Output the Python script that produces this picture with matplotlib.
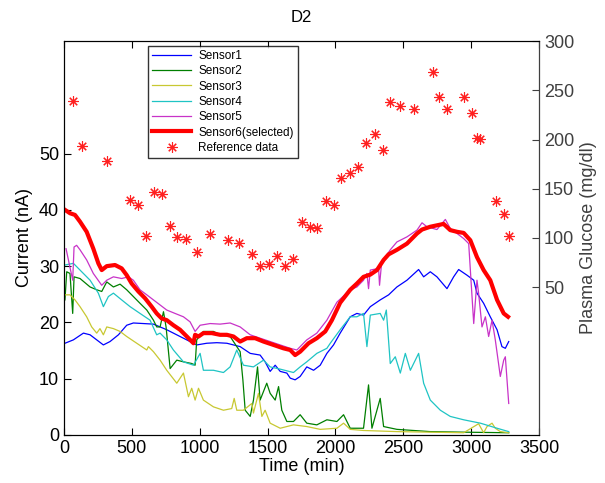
import matplotlib
matplotlib.use("Agg")
import matplotlib.pyplot as plt

plt.rcParams['font.family'] = ['Liberation Sans', 'DejaVu Sans']

# ---- data (time in min, current in nA, glucose in mg/dl) ----
t1 = [7, 69, 143, 192, 241, 290, 339, 401, 462, 511, 585, 659, 708, 757, 806, 855, 929, 978,
      1052, 1126, 1200, 1249, 1298, 1372, 1445, 1482, 1519, 1556, 1593, 1642, 1667, 1703, 1740,
      1789, 1839, 1888, 1937, 1986, 2035, 2109, 2158, 2207, 2257, 2330, 2392, 2453, 2527, 2613,
      2650, 2699, 2748, 2822, 2871, 2908, 2969, 3019, 3043, 3092, 3141, 3191, 3227, 3252, 3277]
s1 = [16.3, 16.9, 18.1, 17.8, 16.9, 16.0, 16.6, 17.8, 19.5, 19.9, 19.8, 19.7, 19.2, 18.7, 18.1,
      17.5, 16.6, 16.0, 16.3, 16.4, 16.3, 16.0, 15.7, 14.5, 14.2, 13.0, 11.3, 12.4, 11.3, 11.0,
      10.1, 9.8, 10.4, 12.1, 11.5, 12.4, 14.5, 16.0, 18.1, 21.0, 21.6, 21.3, 22.8, 24.0, 24.9,
      26.3, 27.5, 29.4, 28.1, 29.0, 28.1, 26.0, 28.1, 29.4, 28.4, 27.5, 25.2, 23.4, 21.0, 18.7,
      15.7, 15.4, 16.6]

t2 = [7, 20, 44, 64, 74, 118, 192, 241, 278, 315, 364, 413, 462, 511, 560, 610, 659, 683, 708,
      733, 752, 782, 831, 880, 941, 966, 978, 1027, 1101, 1150, 1224, 1298, 1318, 1335, 1372,
      1396, 1426, 1445, 1494, 1519, 1556, 1581, 1605, 1642, 1691, 1740, 1789, 1863, 1937, 2011,
      2060, 2109, 2207, 2244, 2269, 2330, 2355, 2453, 2699, 2945, 3277]
s2 = [24.0, 29.0, 28.7, 21.6, 28.1, 27.8, 26.3, 25.8, 25.5, 27.2, 26.3, 26.8, 25.8, 24.6, 23.4,
      22.2, 20.4, 19.2, 19.2, 21.9, 19.2, 11.8, 13.3, 13.0, 12.7, 12.4, 16.9, 18.4, 18.4, 17.8,
      17.5, 14.8, 9.8, 4.4, 3.3, 6.2, 12.1, 6.2, 9.2, 7.4, 6.2, 8.6, 4.4, 2.4, 2.4, 3.6, 2.1,
      1.8, 2.7, 2.4, 3.6, 1.2, 1.2, 8.9, 1.2, 6.5, 1.5, 1.0, 0.6, 0.5, 0.4]

t3 = [7, 44, 81, 118, 167, 204, 241, 265, 290, 315, 364, 413, 462, 536, 610, 622, 659, 708, 757,
      831, 880, 917, 941, 966, 991, 1027, 1101, 1175, 1236, 1254, 1273, 1322, 1384, 1396, 1433,
      1458, 1482, 1519, 1593, 1691, 1789, 1888, 2011, 2060, 2109, 2207, 2453, 2945, 3055, 3092,
      3117, 3154, 3178, 3215, 3277]
s3 = [24.9, 24.9, 24.0, 22.8, 21.0, 19.2, 18.1, 18.9, 17.8, 19.2, 18.9, 18.4, 17.5, 16.3, 15.1,
      15.7, 14.8, 13.3, 11.5, 9.2, 11.0, 6.8, 8.3, 6.2, 8.3, 6.2, 5.0, 4.4, 4.7, 6.5, 4.4, 4.4,
      5.6, 3.9, 7.4, 3.3, 4.4, 2.1, 1.2, 1.8, 1.5, 1.0, 1.2, 2.1, 1.0, 0.8, 0.6, 0.4, 2.0, 0.4,
      1.5, 2.1, 1.2, 0.6, 0.4]

t4 = [7, 69, 118, 192, 253, 290, 327, 364, 425, 487, 560, 634, 683, 708, 757, 806, 880, 954,
      1003, 1027, 1101, 1175, 1224, 1273, 1322, 1396, 1470, 1519, 1593, 1691, 1740, 1789, 1863,
      1937, 1962, 2035, 2109, 2158, 2207, 2232, 2257, 2330, 2355, 2375, 2404, 2441, 2478, 2515,
      2552, 2613, 2650, 2699, 2773, 2846, 2945, 3068, 3191, 3277]
s4 = [30.2, 30.5, 29.3, 27.5, 25.2, 22.8, 24.6, 25.2, 24.0, 22.8, 21.6, 20.4, 17.8, 18.1, 16.9,
      15.1, 13.0, 12.4, 14.5, 11.5, 11.5, 11.1, 12.1, 15.1, 12.4, 12.1, 13.3, 12.1, 11.7, 11.1,
      12.1, 13.0, 14.5, 15.4, 16.3, 18.7, 21.0, 21.0, 21.6, 15.7, 21.3, 21.6, 20.4, 22.2, 12.7,
      13.9, 11.0, 14.5, 11.5, 14.5, 9.2, 6.2, 4.4, 3.3, 2.7, 2.1, 1.2, 0.6]

t5 = [15, 64, 74, 93, 118, 167, 216, 278, 315, 364, 425, 474, 511, 560, 610, 659, 708, 757, 818,
      880, 929, 966, 1003, 1077, 1150, 1224, 1298, 1372, 1445, 1519, 1593, 1667, 1716, 1789,
      1863, 1937, 2011, 2109, 2158, 2207, 2232, 2244, 2257, 2318, 2325, 2340, 2355, 2404, 2453,
      2527, 2601, 2638, 2674, 2748, 2810, 2846, 2896, 2945, 2982, 3019, 3043, 3055, 3080, 3105,
      3129, 3154, 3178, 3215, 3240, 3252, 3277]
s5 = [33.1, 27.5, 33.4, 33.7, 32.9, 31.1, 28.7, 26.6, 27.5, 28.1, 27.8, 28.1, 27.5, 25.8, 24.9,
      24.0, 23.1, 22.2, 21.6, 21.0, 20.1, 18.4, 19.5, 19.8, 19.7, 19.9, 19.2, 17.8, 17.2, 16.6,
      16.0, 15.4, 15.1, 16.9, 18.1, 20.4, 23.6, 25.8, 26.3, 27.5, 28.7, 26.0, 29.3, 29.6, 26.6,
      30.5, 31.1, 32.9, 34.3, 35.2, 36.4, 37.7, 37.0, 36.5, 38.3, 36.7, 35.8, 34.9, 34.0, 19.8,
      27.5, 25.2, 19.2, 21.0, 17.5, 20.4, 16.9, 10.4, 13.3, 13.9, 5.6]

t6 = [7, 44, 81, 118, 167, 216, 253, 278, 315, 376, 425, 462, 499, 548, 597, 646, 683, 720, 757,
      806, 855, 905, 954, 966, 991, 1027, 1089, 1150, 1200, 1249, 1298, 1347, 1408, 1470, 1544,
      1617, 1667, 1703, 1740, 1802, 1863, 1925, 1974, 2035, 2109, 2158, 2207, 2257, 2306, 2355,
      2392, 2453, 2527, 2601, 2638, 2699, 2797, 2846, 2896, 2945, 2994, 3043, 3092, 3141, 3191,
      3240, 3272]
s6 = [40.0, 39.4, 39.1, 37.9, 36.1, 33.1, 30.5, 29.3, 30.0, 30.2, 29.6, 28.4, 26.9, 25.5, 24.3,
      22.8, 21.6, 20.7, 20.4, 19.5, 18.7, 17.5, 16.3, 17.8, 17.5, 18.1, 18.1, 17.8, 17.8, 17.5,
      16.6, 17.2, 17.2, 16.6, 16.0, 15.4, 15.1, 14.2, 14.8, 16.3, 17.2, 18.4, 20.4, 23.5, 25.8,
      26.9, 28.1, 28.5, 29.3, 31.1, 32.1, 32.9, 34.0, 35.8, 36.5, 37.0, 37.5, 36.4, 36.1, 35.9,
      34.6, 31.6, 29.3, 27.5, 24.0, 21.6, 21.0]

t_ref = [64, 130, 320, 487, 548, 605, 666, 725, 782, 836, 897, 978, 1079, 1207, 1291, 1384, 1445,
         1512, 1568, 1630, 1691, 1755, 1809, 1863, 1930, 1986, 2043, 2104, 2168, 2227, 2289, 2350,
         2404, 2473, 2581, 2719, 2763, 2822, 2945, 3004, 3043, 3063, 3181, 3245, 3277]
g_ref = [239, 193, 178, 139, 134, 102, 147, 145, 112, 101, 99, 86, 104, 98, 95, 84, 72, 74, 82,
         72, 79, 116, 111, 110, 138, 134, 161, 166, 172, 196, 206, 189, 238, 234, 231, 269, 243,
         231, 243, 227, 202, 201, 138, 124, 102]

fig = plt.figure(figsize=(6.05, 4.83), dpi=100)
ax = fig.add_axes([0.1058, 0.0994, 0.7851, 0.8157])

ax.plot(t1, s1, color='#0000ff', lw=0.9, label='Sensor1')
ax.plot(t2, s2, color='#007f00', lw=0.9, label='Sensor2')
ax.plot(t3, s3, color='#c8c832', lw=0.9, label='Sensor3')
ax.plot(t4, s4, color='#1fc4c4', lw=0.9, label='Sensor4')
ax.plot(t5, s5, color='#c833c8', lw=0.9, label='Sensor5')
ax.plot(t6, s6, color='#ff0000', lw=3, label='Sensor6(selected)')

ax.set_xlim(0, 3500)
ax.set_ylim(0, 70)
ax.set_yticks([0, 10, 20, 30, 40, 50])
ax.set_xticks(range(0, 3501, 500))
ax.tick_params(direction='in', length=5, labelsize=13, top=True, right=True)
ax.set_xlabel('Time (min)', fontsize=13, labelpad=1)
ax.set_ylabel('Current (nA)', fontsize=13, labelpad=4)
ax.set_title('D2', fontsize=12, pad=14)

ax2 = ax.twinx()
ax2.plot(t_ref, g_ref, linestyle='none', marker=(8, 2, 0), markersize=7.5,
         color='#ff2020', markeredgewidth=0.8, label='Reference data')
ax2.set_ylim(-100, 300)
ax2.set_yticks([50, 100, 150, 200, 250, 300])
ax2.tick_params(direction='in', length=5, labelsize=13, colors='#404040')
ax2.spines['right'].set_color('#404040')
ax2.set_ylabel('Plasma Glucose (mg/dl)', fontsize=13, color='#404040', labelpad=4)

h1, l1 = ax.get_legend_handles_labels()
h2, l2 = ax2.get_legend_handles_labels()
leg = ax2.legend(h1 + h2, l1 + l2, loc='upper left', bbox_to_anchor=(0.2446, 0.905),
                 bbox_transform=fig.transFigure, fontsize=8.5, frameon=True, fancybox=False,
                 handlelength=3.3, labelspacing=0.28, borderpad=0.35, handletextpad=0.6,
                 borderaxespad=0)
leg.get_frame().set_edgecolor('black')
leg.get_frame().set_linewidth(1.0)

fig.savefig('out.png', dpi=100)
